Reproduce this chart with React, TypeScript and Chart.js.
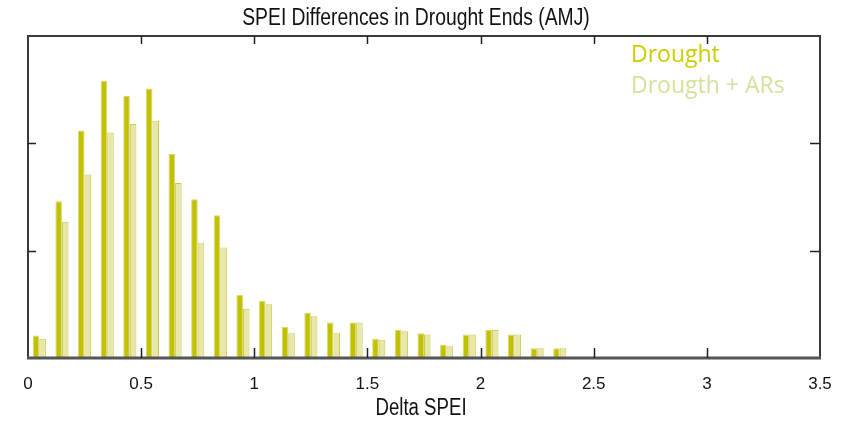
import React, { useEffect, useRef } from "react";
import { Chart, registerables } from "chart.js";

Chart.register(...registerables);

const binCenters = [
  0.05, 0.15, 0.25, 0.35, 0.45, 0.55, 0.65, 0.75, 0.85, 0.95, 1.05, 1.15,
  1.25, 1.35, 1.45, 1.55, 1.65, 1.75, 1.85, 1.95, 2.05, 2.15, 2.25, 2.35,
];
const droughtValues = [
  2.1, 14.6, 21.2, 25.8, 24.4, 25.1, 19.0, 14.8, 13.3, 5.9, 5.3, 2.9,
  4.2, 3.3, 3.3, 1.8, 2.6, 2.3, 1.2, 2.2, 2.6, 2.2, 0.9, 0.9,
];
const droughtArValues = [
  1.8, 12.7, 17.1, 21.0, 21.8, 22.1, 16.3, 10.7, 10.3, 4.6, 5.0, 2.3,
  3.9, 2.3, 3.3, 1.7, 2.5, 2.2, 1.1, 2.2, 2.6, 2.2, 0.9, 0.9,
];
const xTicks = [0, 0.5, 1, 1.5, 2, 2.5, 3, 3.5];
const yTicks = [10, 20];
const titleText = "SPEI Differences in Drought Ends (AMJ)";
const xTitleText = "Delta SPEI";
const legendLabels = ["Drought", "Drougth + ARs"];
const legendColors = ["#cccc00", "#d3e29c"];

const SANS = '"Liberation Sans", Arial, sans-serif';

function drawNarrow(ctx: any, text: string, cx: number, cy: number, size: number, sx: number) {
  ctx.save();
  ctx.translate(cx, cy);
  ctx.scale(sx, 1);
  ctx.font = `${size}px ${SANS}`;
  ctx.textAlign = "center";
  ctx.textBaseline = "middle";
  ctx.fillText(text, 0, 0);
  ctx.restore();
}

const decorPlugin = {
  id: "decor",
  afterDatasetsDraw(chart: any) {
    const { ctx, chartArea } = chart;
    const xs = chart.scales.x;
    const ys = chart.scales.y;
    const { left, right, top, bottom } = chartArea;
    ctx.save();
    // frame
    ctx.strokeStyle = "#3a3a3a";
    ctx.lineWidth = 2;
    ctx.beginPath();
    ctx.moveTo(left, bottom);
    ctx.lineTo(left, top);
    ctx.lineTo(right, top);
    ctx.lineTo(right, bottom);
    ctx.stroke();
    ctx.strokeStyle = "#555555";
    ctx.lineWidth = 3;
    ctx.beginPath();
    ctx.moveTo(left - 1, bottom);
    ctx.lineTo(right + 1, bottom);
    ctx.stroke();
    // inner ticks
    ctx.strokeStyle = "#222222";
    ctx.lineWidth = 1.5;
    ctx.beginPath();
    xTicks.forEach((v) => {
      if (v <= 0 || v >= 3.5) return;
      const px = Math.round(xs.getPixelForValue(v)) + 0.5;
      ctx.moveTo(px, top);
      ctx.lineTo(px, top + 8);
      ctx.moveTo(px, bottom);
      ctx.lineTo(px, bottom - 10);
    });
    yTicks.forEach((v) => {
      const py = Math.round(ys.getPixelForValue(v)) + 0.5;
      ctx.moveTo(left, py);
      ctx.lineTo(left + 8, py);
      ctx.moveTo(right, py);
      ctx.lineTo(right - 10, py);
    });
    ctx.stroke();
    // titles
    ctx.fillStyle = "#111111";
    drawNarrow(ctx, titleText, 416, 19, 23, 0.84);
    drawNarrow(ctx, xTitleText, 421, 409, 23, 0.81);
    // legend
    ctx.textAlign = "left";
    ctx.textBaseline = "alphabetic";
    ctx.font = '23px "Open Sans", "Noto Sans", sans-serif';
    legendLabels.forEach((t, i) => {
      ctx.fillStyle = legendColors[i];
      ctx.fillText(t, 631, 62 + i * 31);
    });
    ctx.restore();
  },
};

export default function App() {
  const ref = useRef<HTMLCanvasElement | null>(null);
  useEffect(() => {
    document.body.style.margin = "0";
    const canvas = ref.current;
    if (!canvas) return;
    const chart = new Chart(canvas, {
      type: "bar",
      data: {
        datasets: [
          {
            label: legendLabels[0],
            data: binCenters.map((x, i) => ({ x, y: droughtValues[i] })),
            backgroundColor: "#c2c100",
            borderColor: "#d9d870",
            borderWidth: 1,
            categoryPercentage: 0.58,
            barPercentage: 1,
          },
          {
            label: legendLabels[1],
            data: binCenters.map((x, i) => ({ x, y: droughtArValues[i] })),
            backgroundColor: "#e7e7aa",
            borderColor: "#c9c850",
            borderWidth: 1,
            categoryPercentage: 0.58,
            barPercentage: 1,
          },
        ],
      },
      options: {
        responsive: false,
        animation: false,
        layout: { padding: { left: 28, right: 30, top: 36, bottom: 0 } },
        plugins: {
          legend: { display: false },
          title: { display: false },
          tooltip: { enabled: false },
        },
        scales: {
          x: {
            type: "linear",
            min: 0,
            max: 3.5,
            offset: false,
            grid: { display: false, drawTicks: false },
            border: { display: false },
            afterBuildTicks: (scale: any) => {
              scale.ticks = xTicks.map((v) => ({ value: v }));
            },
            afterFit: (scale: any) => {
              scale.height = 63;
            },
            ticks: {
              padding: 16,
              color: "#111111",
              maxRotation: 0,
              autoSkip: false,
              font: { family: SANS, size: 17 },
              callback: (v: any) => String(v),
            },
          },
          y: {
            display: false,
            min: 0,
            max: 30,
          },
        },
      },
      plugins: [decorPlugin],
    });
    return () => chart.destroy();
  }, []);
  return (
    <div style={{ width: 850, height: 421, background: "#ffffff" }}>
      <canvas ref={ref} width={850} height={421} style={{ display: "block" }} />
    </div>
  );
}
